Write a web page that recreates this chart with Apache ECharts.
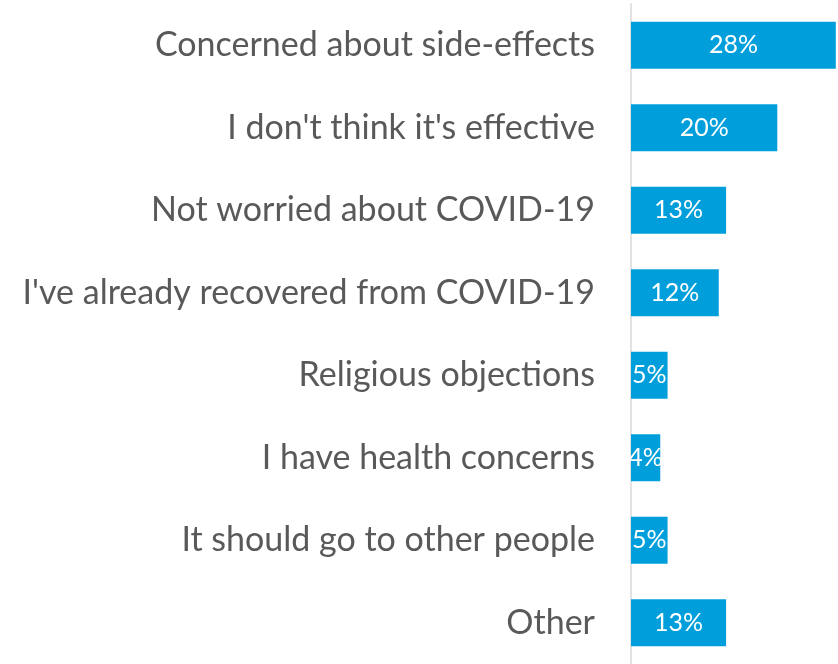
<!DOCTYPE html>
<html>
<head>
<meta charset="utf-8">
<script src="https://cdn.jsdelivr.net/npm/echarts@6/dist/echarts.min.js"></script>
<style>
  html, body { margin: 0; padding: 0; background: #fff; }
  #chart { width: 838px; height: 664px; }
</style>
</head>
<body>
<div id="chart"></div>
<script>
// Reasons for not getting the vaccine (share of respondents, %)
const reasons = [
  "Concerned about side-effects",
  "I don't think it's effective",
  "Not worried about COVID-19",
  "I've already recovered from COVID-19",
  "Religious objections",
  "I have health concerns",
  "It should go to other people",
  "Other"
];
const shares = [28, 20, 13, 12, 5, 4, 5, 13];

const chart = echarts.init(document.getElementById('chart'));
chart.setOption({
  animation: false,
  grid: { left: 631, right: 0, top: 4, height: 664, containLabel: false },
  xAxis: {
    type: 'value',
    min: 0,
    max: 28.3,
    show: false
  },
  yAxis: {
    type: 'category',
    inverse: true,
    data: reasons,
    axisLine: { show: true, lineStyle: { color: '#e2e2e2', width: 2 } },
    axisTick: { show: false },
    axisLabel: {
      margin: 36,
      color: '#595959',
      fontFamily: 'Lato, "Open Sans", sans-serif',
      fontSize: 34,
      padding: [0, 0, 4, 0]
    }
  },
  series: [{
    type: 'bar',
    data: shares,
    barWidth: 47,
    itemStyle: { color: '#009fdb' },
    label: {
      show: true,
      position: 'inside',
      color: '#ffffff',
      fontFamily: 'Lato, "Open Sans", sans-serif',
      fontSize: 25,
      formatter: p => p.value + '%'
    }
  }]
});
</script>
</body>
</html>
